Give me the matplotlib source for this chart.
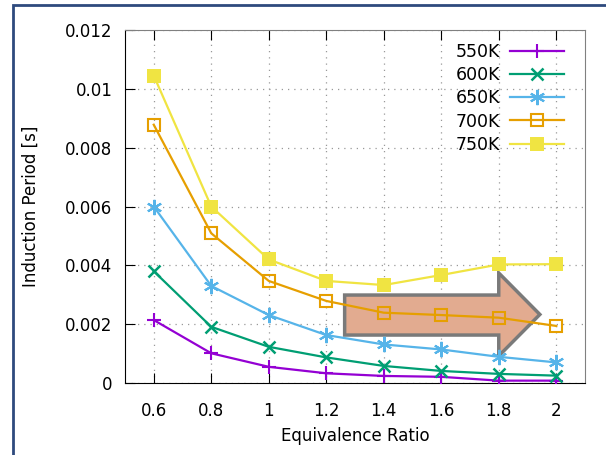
import matplotlib.pyplot as plt
from matplotlib.patches import Polygon, Rectangle

plt.rcParams['font.family'] = 'DejaVu Sans'
plt.rcParams['xtick.labelsize'] = 12
plt.rcParams['ytick.labelsize'] = 12

# equivalence ratio and induction periods for each initial temperature
phi = [0.6, 0.8, 1.0, 1.2, 1.4, 1.6, 1.8, 2.0]
t550 = [0.00214, 0.00101, 0.00055, 0.00033, 0.00024, 0.00021, 0.00008, 0.00008]
t600 = [0.0038, 0.00191, 0.00123, 0.00087, 0.00058, 0.00041, 0.00031, 0.00025]
t650 = [0.0060, 0.0033, 0.00231, 0.00163, 0.00131, 0.00114, 0.00089, 0.0007]
t700 = [0.00878, 0.00509, 0.00347, 0.00279, 0.00239, 0.00231, 0.00222, 0.00194]
t750 = [0.01045, 0.0060, 0.0042, 0.00347, 0.00333, 0.00367, 0.00403, 0.00404]

series = [
    ('550K', t550, '#9400d3', dict(marker='+', markersize=10, mew=1.5)),
    ('600K', t600, '#009e73', dict(marker='x', markersize=9, mew=1.8)),
    ('650K', t650, '#56b4e9', dict(marker=(6, 2, 0), markersize=11, mew=1.5)),
    ('700K', t700, '#e69f00', dict(marker='s', markersize=9, mfc='none', mew=1.5)),
    ('750K', t750, '#f0e442', dict(marker='s', markersize=10.5, mew=0)),
]

fig = plt.figure(figsize=(6.06, 4.55), dpi=100)
ax = fig.add_axes([125 / 606, 1 - 383 / 455, 460 / 606, 353 / 455])

# slide frame
fig.patches.append(Rectangle((13 / 606, -0.05), 1.1, 1 - 5 / 455 + 0.05,
                             transform=fig.transFigure, fill=False,
                             edgecolor='#2e4a7d', linewidth=2))

for label, vals, color, mk in series:
    ax.plot(phi, vals, color=color, linewidth=1.6, label=label, zorder=3, **mk)

# trend arrow
arrow = Polygon([(1.264, 0.00299), (1.80, 0.00299), (1.80, 0.00374), (1.943, 0.00233),
                 (1.80, 0.00092), (1.80, 0.00163), (1.264, 0.00163)],
                closed=True, facecolor='#e2ab90', edgecolor='#7a7a7a', linewidth=2.5, zorder=2)
ax.add_patch(arrow)

ax.set_xlim(0.5, 2.1)
ax.set_ylim(0, 0.012)
ax.set_xticks(phi)
ax.set_xticklabels(['0.6', '0.8', '1', '1.2', '1.4', '1.6', '1.8', '2'])
ax.set_yticks([0, 0.002, 0.004, 0.006, 0.008, 0.01, 0.012])
ax.set_yticklabels(['0', '0.002', '0.004', '0.006', '0.008', '0.01', '0.012'])
ax.tick_params(direction='in', length=7, top=True, right=False)
ax.tick_params(axis='x', pad=14)
ax.tick_params(axis='y', pad=9)
ax.grid(True, linestyle=(0, (1, 4)), color='#999999', linewidth=0.9)
ax.set_axisbelow(True)
for side in ['top', 'right']:
    ax.spines[side].set_color('#808080')

ax.set_xlabel('Equivalence Ratio', fontsize=12, labelpad=5)
ax.set_ylabel('Induction Period [s]', fontsize=12, labelpad=18)

ax.legend(loc='upper right', bbox_to_anchor=(1 - 14 / 460, 1 - 6 / 353), frameon=False,
          markerfirst=False, fontsize=12.5, handlelength=3.1, labelspacing=0.3,
          handletextpad=0.6, borderaxespad=0, numpoints=1)

fig.savefig('out.png', dpi=100)
